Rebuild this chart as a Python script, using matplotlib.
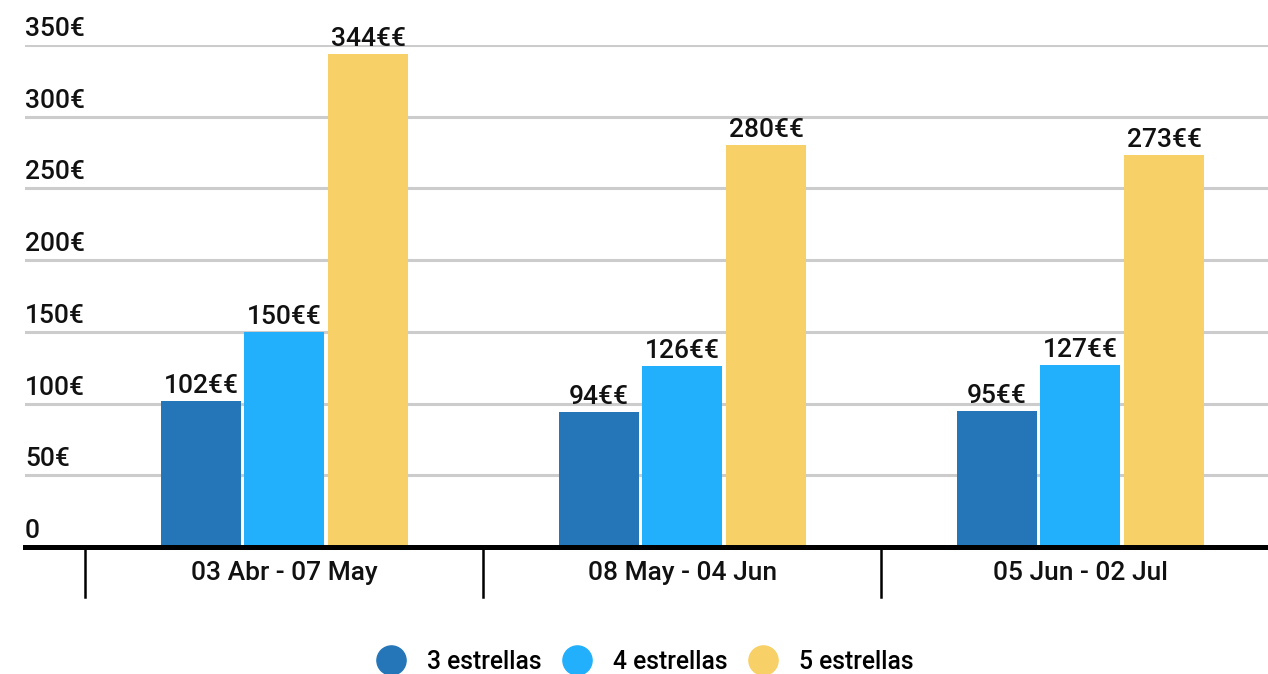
import matplotlib
matplotlib.use("Agg")
import matplotlib.pyplot as plt
from matplotlib.lines import Line2D
import numpy as np

plt.rcParams['font.family'] = ['Roboto', 'DejaVu Sans']
plt.rcParams['font.weight'] = 'medium'

categories = ["03 Abr - 07 May", "08 May - 04 Jun", "05 Jun - 02 Jul"]
series_names = ["3 estrellas", "4 estrellas", "5 estrellas"]
values_3 = [102, 94, 95]
values_4 = [150, 126, 127]
values_5 = [344, 280, 273]
y_ticks = [0, 50, 100, 150, 200, 250, 300, 350]
y_tick_labels = ["0", "50€", "100€", "150€", "200€", "250€", "300€", "350€"]

colors = ["#2476B8", "#22B0FC", "#F8D068"]

W, H = 1268, 674
fig = plt.figure(figsize=(W / 100, H / 100), dpi=100)
ax = fig.add_axes([25 / W, (H - 547) / H, 1243 / W, 502 / H])
ax.set_xlim(-0.651, 2.472)
ax.set_ylim(0, 350)
for s in ax.spines.values():
    s.set_visible(False)
ax.set_xticks([])
ax.set_yticks([])

# gridlines
for t in y_ticks[1:]:
    ax.axhline(t, color="#CCCCCC", lw=2.2, zorder=1)

x = np.arange(len(categories))
width = 0.201
offsets = [-0.209, 0.0, 0.211]
all_vals = [values_3, values_4, values_5]
for vals, off, c, name in zip(all_vals, offsets, colors, series_names):
    ax.bar(x + off, vals, width=width, color=c, zorder=2, label=name)
    for xi, v in zip(x + off, vals):
        ax.annotate(f"{v}€€", (xi, v), xytext=(0, 3), textcoords="offset pixels",
                    ha="center", va="bottom", fontsize=19, color="#111111", zorder=4)

# axis baseline
ax.axhline(0, color="black", lw=3.6, zorder=3, clip_on=False)

# y tick labels
for t, lab in zip(y_ticks, y_tick_labels):
    ax.annotate(lab, (0, t), xycoords=ax.get_yaxis_transform(), xytext=(0, 4),
                textcoords="offset pixels", ha="left", va="bottom",
                fontsize=19, color="#111111", annotation_clip=False)

# category separators
tr = ax.get_xaxis_transform()
for b in [-0.5, 0.5, 1.5]:
    ax.plot([b, b], [0, -50 / 502], transform=tr, color="black", lw=1.8,
            clip_on=False, zorder=3)

# category labels
for xi, lab in zip(x, categories):
    ax.annotate(lab, (xi, 0), xycoords=tr, xytext=(0, -26), textcoords="offset pixels",
                ha="center", va="center", fontsize=19, color="#111111",
                annotation_clip=False)

handles = [Line2D([], [], marker="o", linestyle="none", markersize=21,
                  markerfacecolor=c, markeredgecolor=c) for c in colors]
fig.legend(handles, series_names, loc="center", bbox_to_anchor=(645 / W, 1 - 662 / H),
           ncol=3, frameon=False, fontsize=17.7, handlelength=1.18, handletextpad=0.88,
           columnspacing=0.84, borderpad=0, borderaxespad=0)

fig.savefig("out.png", dpi=100)
